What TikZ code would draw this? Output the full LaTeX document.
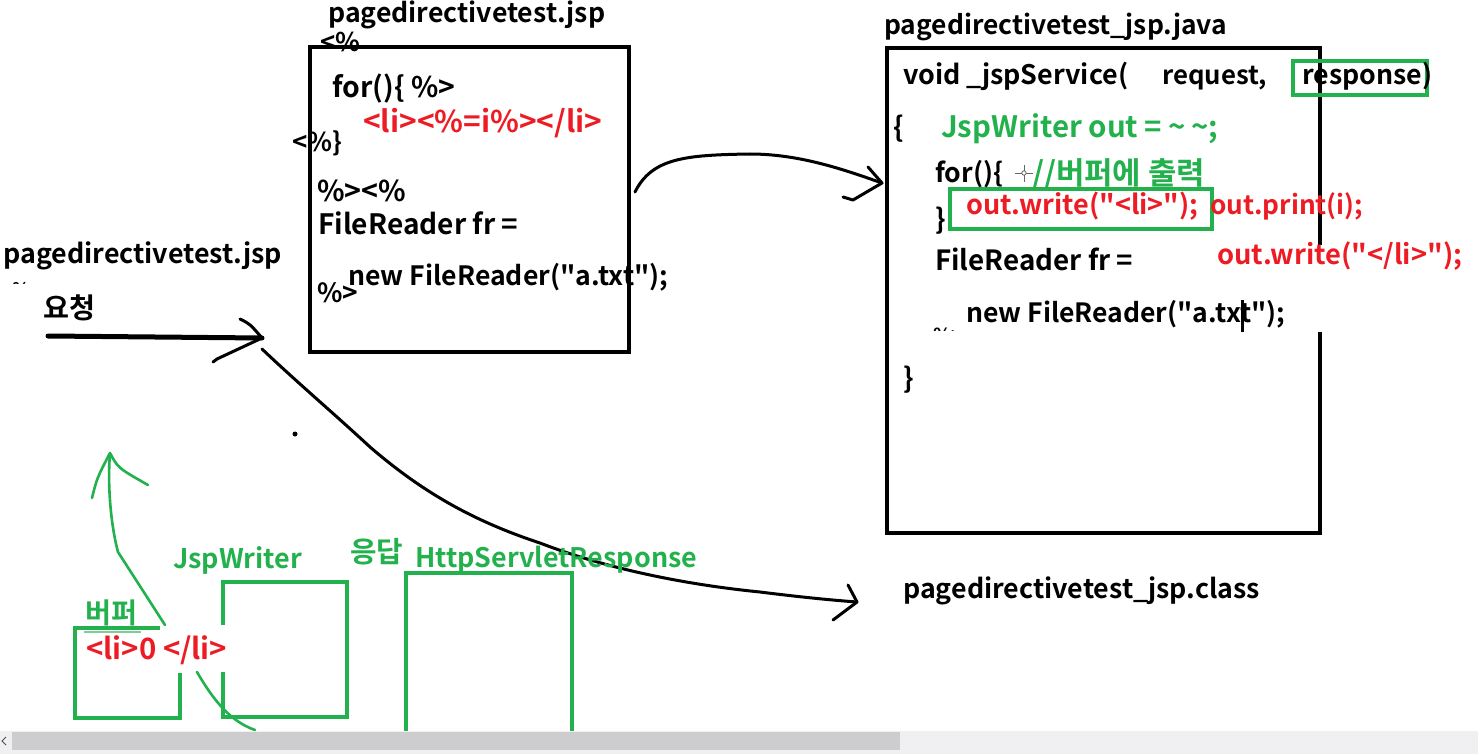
\documentclass[tikz,border=0pt]{standalone}
\usepackage{fontspec}
\usepackage{graphicx}
\setmainfont{Noto Sans CJK KR}[BoldFont={Noto Sans CJK KR Bold}, Ligatures=TeXOff]
\definecolor{pgreen}{RGB}{34,177,76}
\definecolor{pred}{RGB}{237,28,36}
\definecolor{barbg}{RGB}{240,240,242}
\definecolor{barthumb}{RGB}{205,205,208}
\newcommand\tw[2]{\resizebox{#1pt}{!}{#2}}
\tikzset{
  txt/.style={anchor=base west, inner sep=0pt, font=\fontsize{28}{30}\selectfont\bfseries},
  gtxt/.style={txt, text=pgreen},
  rtxt/.style={txt, text=pred},
  blkbox/.style={draw=black, line width=4pt, line join=miter},
  gbox/.style={draw=pgreen, line width=4pt, line join=miter},
  hand/.style={draw=black, line width=3pt, line cap=round, line join=round},
  ghand/.style={draw=pgreen, line width=2.6pt, line cap=round, line join=round},
}
\begin{document}
\begin{tikzpicture}[x=1pt,y=-1pt]
\useasboundingbox (0,0) rectangle (1478,754);
\fill[white] (0,0) rectangle (1478,754);

% ---------- JSP box ----------
\node[blkbox, anchor=north west, minimum width=319pt, minimum height=305pt, inner sep=0pt] (jspbox) at (308,45) {};
\node[txt] (jsptitle) at (328,23) {\tw{277}{pagedirectivetest.jsp}};
\node[txt] (j1) at (320,52) {\tw{40}{<\%}};
\node[txt] (j2) at (332,98) {\tw{123}{for()\{ \%>}};
\node[rtxt] (j3) at (363,133) {\tw{239}{<li><\%=i\%></li>}};
\node[txt] (j4) at (292,152) {\tw{50}{<\%\}}};
\node[txt] (j5) at (317,202) {\tw{89}{\%><\%}};
\node[txt] (j6) at (318,235) {\tw{200}{FileReader fr =}};
\node[txt] (j7) at (348,285) {\tw{320}{new FileReader("a.txt");}};
\node[txt] (j8) at (317,302) {\tw{41}{\%>}};

% ---------- request ----------
\node[txt] (reqtitle) at (3,263) {\tw{279}{pagedirectivetest.jsp}};
\begin{scope}
\clip (0,270) rectangle (60,283);
\node[txt] (reqpct) at (12,296) {\tw{18}{\%}};
\end{scope}
\node[txt] (req) at (43,318) {\tw{52}{요청}};
\coordinate (rs) at (48,336);
\coordinate (re) at (262,338);
\draw[draw=black, line width=5pt, line cap=round] (rs) -- (re);
\draw[hand] (240,319) .. controls (250,324) .. (re) -- (217,359) -- (213,362);

% ---------- java box ----------
\node[txt] (javatitle) at (884,35) {\tw{343}{pagedirectivetest\_jsp.java}};
\draw[blkbox] (1320,245) -- (1320,48) -- (887,48) -- (887,533) -- (1320,533) -- (1320,332);
\node[gbox, anchor=north west, minimum width=134pt, minimum height=34pt, inner sep=0pt] (respbox) at (1291,59) {};
\node[gbox, anchor=north west, minimum width=262pt, minimum height=40pt, inner sep=0pt] (writebox) at (948,187) {};
\node[txt] (v1) at (903,85) {\tw{225}{void \_jspService(}};
\node[txt] (v2) at (1162,85) {\tw{105}{request,}};
\node[txt] (v3) at (1302,85) {\tw{130}{response)}};
\node[txt] (ob) at (893,138) {\{};
\node[gtxt] (jw) at (941,138) {\tw{277}{JspWriter out = \textasciitilde\,\textasciitilde;}};
\node[txt] (f1) at (935,183) {\tw{68}{for()\{}};
\draw[black!60, line width=0.8pt] (1015,173) -- (1033,173) (1024,165) -- (1024,182);
\draw[black!60, line width=0.8pt, fill=white] (1024,173) circle (2.2pt);
\node[gtxt] (cmt) at (1032,185) {\tw{173}{//버퍼에 출력}};
\node[rtxt] (w1) at (966,215) {\tw{232}{out.write("<li>");}};
\node[rtxt] (w2) at (1210,215) {\tw{153}{out.print(i);}};
\node[txt] (cb1) at (935,230) {\}};
\node[txt] (f2) at (935,270) {\tw{198}{FileReader fr =}};
\node[rtxt] (w3) at (1217,265) {\tw{245}{out.write("</li>");}};
\node[txt] (f3) at (966,322) {\tw{319}{new FileReader("a.txt");}};
\begin{scope}
\clip (920,300) rectangle (965,330);
\node[txt] (pct2) at (933,342) {\tw{30}{\%>}};
\end{scope}
\fill[black] (1240.5,300) rectangle (1243.5,332);
\node[txt] (cb2) at (903,388) {\}};
\node[txt] (classtitle) at (903,598) {\tw{357}{pagedirectivetest\_jsp.class}};

% ---------- arrows ----------
\coordinate (a1s) at (635,192);
\coordinate (a1m) at (750,154);
\coordinate (a1e) at (882,183);
\draw[hand] (a1s) .. controls (652,158) and (685,155) .. (a1m) .. controls (800,154) and (845,170) .. (a1e);
\draw[hand] (868,167) -- (a1e) -- (853,200) -- (843,197);

\coordinate (c0) at (262,349);
\coordinate (c1) at (370,447);
\coordinate (c2) at (540,543);
\coordinate (c3) at (760,592);
\coordinate (c4) at (857,602);
\draw[hand] (c0) .. controls (300,385) and (330,410) .. (c1) .. controls (420,490) and (470,520) .. (c2) .. controls (610,570) and (690,585) .. (c3) .. controls (800,597) and (830,600) .. (c4);
\draw[hand] (848,585) -- (c4) -- (833,620);
\fill[black] (295,434) circle (2.5pt);

% ---------- bottom-left (green) ----------
\node[gtxt] (buf) at (85,623) {\tw{52}{버퍼}};
\draw[pgreen!60, line width=1.5pt] (84,632) -- (141,632);
\draw[gbox] (160,628) -- (75,628) -- (75,718) -- (180,718) -- (180,673);
\node[rtxt] (li0) at (86,659) {\tw{141}{<li>0 </li>}};
\node[gtxt] (jwl) at (173,568) {\tw{129}{JspWriter}};
\draw[gbox] (223,625) -- (223,582) -- (347,582) -- (347,717) -- (223,717) -- (223,672);
\node[gtxt] (resp) at (350,562) {\tw{53}{응답}};
\node[gtxt] (hsr) at (415,567) {\tw{282}{HttpServletResponse}};
\draw[gbox] (406,731) -- (406,573) -- (572,573) -- (572,731);

\coordinate (g0) at (165,625);
\coordinate (gk) at (118,552);
\coordinate (gtip) at (110,453);
\draw[ghand] (g0) -- (gk) .. controls (112,530) and (107,490) .. (gtip);
\draw[ghand] (92,498) .. controls (97,478) .. (gtip) .. controls (118,468) .. (148,485);
\coordinate (h0) at (197,672);
\coordinate (h1) at (255,730);
\draw[ghand] (h0) .. controls (215,703) and (232,722) .. (h1);

% ---------- scrollbar ----------
\fill[barbg] (0,731) rectangle (1478,754);
\fill[barthumb] (12,732) rectangle (900,750);
\draw[black!70, line width=1pt] (6,737) -- (2,741) -- (6,745);
\end{tikzpicture}
\end{document}
